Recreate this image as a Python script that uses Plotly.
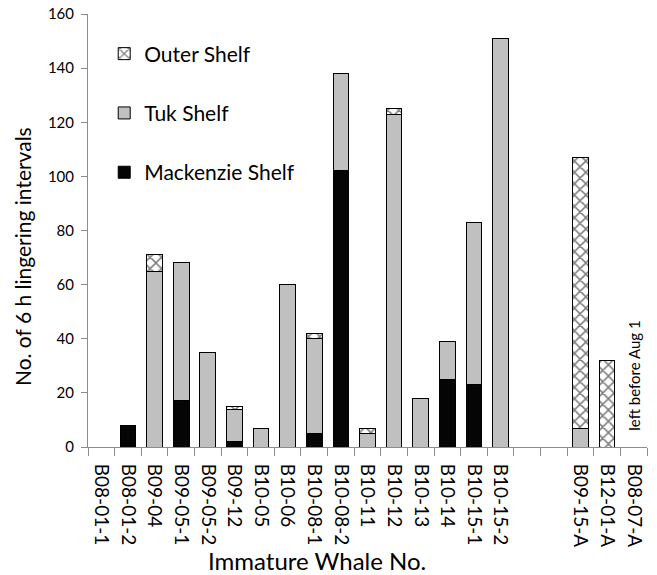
import plotly.graph_objects as go

categories = ["B08-01-1", "B08-01-2", "B09-04", "B09-05-1", "B09-05-2", "B09-12",
              "B10-05", "B10-06", "B10-08-1", "B10-08-2", "B10-11", "B10-12",
              "B10-13", "B10-14", "B10-15-1", "B10-15-2", " ", "  ",
              "B09-15-A", "B12-01-A", "B08-07-A"]
mackenzie = [0, 8, 0, 17, 0, 2, 0, 0, 5, 102, 0, 0, 0, 25, 23, 0, 0, 0, 0, 0, 0]
tuk =       [0, 0, 65, 51, 35, 12, 7, 60, 35, 36, 5, 123, 18, 14, 60, 151, 0, 0, 7, 0, 0]
outer =     [0, 0, 6, 0, 0, 1, 0, 0, 2, 0, 2, 2, 0, 0, 0, 0, 0, 0, 100, 32, 0]
y_ticks = [0, 20, 40, 60, 80, 100, 120, 140, 160]

FONT = "Lato"
fig = go.Figure()
fig.add_trace(go.Bar(x=categories, y=mackenzie, name="Mackenzie Shelf", legendgroup="m",
                     legendrank=3,
                     marker=dict(color="#050505", line=dict(color="black", width=1))))
fig.add_trace(go.Bar(x=categories, y=tuk, name="Tuk Shelf", legendgroup="t",
                     legendrank=2,
                     marker=dict(color="#c0c0c0", line=dict(color="black", width=1))))
fig.add_trace(go.Bar(x=categories, y=outer, name="Outer Shelf", legendgroup="o",
                     legendrank=1,
                     marker=dict(color="white", line=dict(color="black", width=1),
                                 pattern=dict(shape="x", fgcolor="black", bgcolor="white",
                                              size=8, solidity=0.35))))

fig.add_annotation(x="B08-07-A", y=0, text="left before Aug 1", textangle=-90,
                   showarrow=False, yanchor="bottom", yshift=14,
                   font=dict(family=FONT, size=15, color="black"))
# axis titles (placed off-centre as in the reference)
fig.add_annotation(xref="paper", yref="paper", x=0.41, y=-0.261, xanchor="center",
                   yanchor="middle", text="Immature Whale No.", showarrow=False,
                   font=dict(family=FONT, size=24, color="black"))
fig.add_annotation(xref="paper", yref="paper", x=-0.117, y=0.44, xanchor="center",
                   yanchor="middle", text="No. of 6 h lingering intervals", textangle=-90,
                   showarrow=False, font=dict(family=FONT, size=21, color="black"))

fig.update_layout(
    width=657, height=575, barmode="stack", bargap=0.41,
    plot_bgcolor="white", paper_bgcolor="white",
    margin=dict(l=88, r=10, t=14, b=128),
    font=dict(family=FONT, color="black"),
    showlegend=True,
    legend=dict(x=0.029, y=0.955, xanchor="left", yanchor="top",
                traceorder="grouped", tracegroupgap=29,
                font=dict(family=FONT, size=21, color="black"),
                bgcolor="rgba(0,0,0,0)"),
    xaxis=dict(type="category", categoryorder="array", categoryarray=categories,
               tickson="boundaries", ticks="outside", ticklen=8, tickcolor="#8c8c8c",
               showline=True, linecolor="#8c8c8c", linewidth=1, tickangle=90,
               ticklabelstandoff=12,
               tickfont=dict(family=FONT, size=19, color="black"),
               automargin=False,
               showgrid=False, zeroline=False, range=[-0.5, 20.5]),
    yaxis=dict(range=[0, 160], tickvals=y_ticks, ticks="outside", ticklen=6,
               tickcolor="#8c8c8c", showline=True, linecolor="#8c8c8c", linewidth=1,
               ticklabelstandoff=4,
               tickfont=dict(family=FONT, size=15, color="black"),
               automargin=False,
               showgrid=False, zeroline=False),
)
fig.write_html("out.html", post_script="document.body.style.margin='0';",
               config={"displayModeBar": False})
